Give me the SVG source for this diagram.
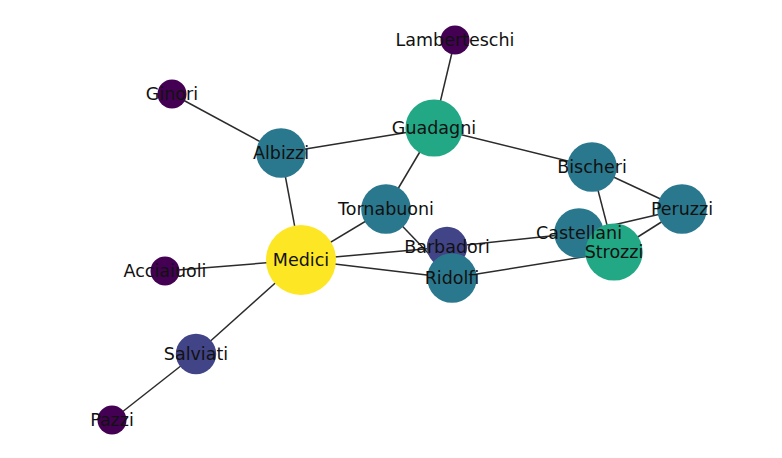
<svg xmlns="http://www.w3.org/2000/svg" width="782" height="458" viewBox="0 0 782 458">
<style>
.e{stroke:#2b2b2b;stroke-width:1.5;fill:none}
text{font-family:"DejaVu Sans",sans-serif;font-size:17.5px;fill:#111;text-anchor:middle}
.d1{fill:#440154}.d2{fill:#414487}.d3{fill:#2a788e}.d4{fill:#22a884}.d6{fill:#fde725}
</style>
<rect width="782" height="458" fill="#fff"/>
<g id="edges">
<line class="e" x1="165" y1="271" x2="301" y2="260"/>
<line class="e" x1="301" y1="260" x2="447" y2="247"/>
<line class="e" x1="301" y1="260" x2="452" y2="278"/>
<line class="e" x1="301" y1="260" x2="386" y2="209"/>
<line class="e" x1="301" y1="260" x2="281" y2="153"/>
<line class="e" x1="301" y1="260" x2="196" y2="354"/>
<line class="e" x1="579" y1="233" x2="682" y2="209"/>
<line class="e" x1="579" y1="233" x2="614" y2="252"/>
<line class="e" x1="579" y1="233" x2="447" y2="247"/>
<line class="e" x1="614" y1="252" x2="452" y2="278"/>
<line class="e" x1="614" y1="252" x2="682" y2="209"/>
<line class="e" x1="614" y1="252" x2="592" y2="167"/>
<line class="e" x1="682" y1="209" x2="592" y2="167"/>
<line class="e" x1="172" y1="94" x2="281" y2="153"/>
<line class="e" x1="281" y1="153" x2="434" y2="128"/>
<line class="e" x1="434" y1="128" x2="455" y2="40"/>
<line class="e" x1="434" y1="128" x2="386" y2="209"/>
<line class="e" x1="434" y1="128" x2="592" y2="167"/>
<line class="e" x1="386" y1="209" x2="452" y2="278"/>
<line class="e" x1="196" y1="354" x2="112" y2="420"/>
</g>
<g id="nodes">
<g id="Acciaiuoli"><circle class="d1" cx="165" cy="271" r="14.5"/></g>
<g id="Ginori"><circle class="d1" cx="172" cy="94" r="14.5"/></g>
<g id="Lamberteschi"><circle class="d1" cx="455" cy="40" r="14.5"/></g>
<g id="Pazzi"><circle class="d1" cx="112" cy="420" r="14.5"/></g>
<g id="Salviati"><circle class="d2" cx="196" cy="354" r="20.2"/></g>
<g id="Albizzi"><circle class="d3" cx="281" cy="153" r="24.8"/></g>
<g id="Guadagni"><circle class="d4" cx="434" cy="128" r="28.6"/></g>
<g id="Bischeri"><circle class="d3" cx="592" cy="167" r="24.8"/></g>
<g id="Peruzzi"><circle class="d3" cx="682" cy="209" r="24.8"/></g>
<g id="Tornabuoni"><circle class="d3" cx="386" cy="209" r="24.8"/></g>
<g id="Medici"><circle class="d6" cx="301" cy="260" r="35"/></g>
<g id="Barbadori"><circle class="d2" cx="447" cy="247" r="20.2"/></g>
<g id="Ridolfi"><circle class="d3" cx="452" cy="278" r="24.8"/></g>
<g id="Castellani"><circle class="d3" cx="579" cy="233" r="24.8"/></g>
<g id="Strozzi"><circle class="d4" cx="614" cy="252" r="28.6"/></g>
</g>
<g id="labels">
<text id="label-Acciaiuoli" x="165" y="277">Acciaiuoli</text>
<text id="label-Ginori" x="172" y="100">Ginori</text>
<text id="label-Lamberteschi" x="455" y="46">Lamberteschi</text>
<text id="label-Pazzi" x="112" y="426">Pazzi</text>
<text id="label-Salviati" x="196" y="360">Salviati</text>
<text id="label-Albizzi" x="281" y="159">Albizzi</text>
<text id="label-Guadagni" x="434" y="134">Guadagni</text>
<text id="label-Bischeri" x="592" y="173">Bischeri</text>
<text id="label-Peruzzi" x="682" y="215">Peruzzi</text>
<text id="label-Tornabuoni" x="386" y="215">Tornabuoni</text>
<text id="label-Medici" x="301" y="266">Medici</text>
<text id="label-Barbadori" x="447" y="253">Barbadori</text>
<text id="label-Ridolfi" x="452" y="284">Ridolfi</text>
<text id="label-Castellani" x="579" y="239">Castellani</text>
<text id="label-Strozzi" x="614" y="258">Strozzi</text>
</g>
</svg>
